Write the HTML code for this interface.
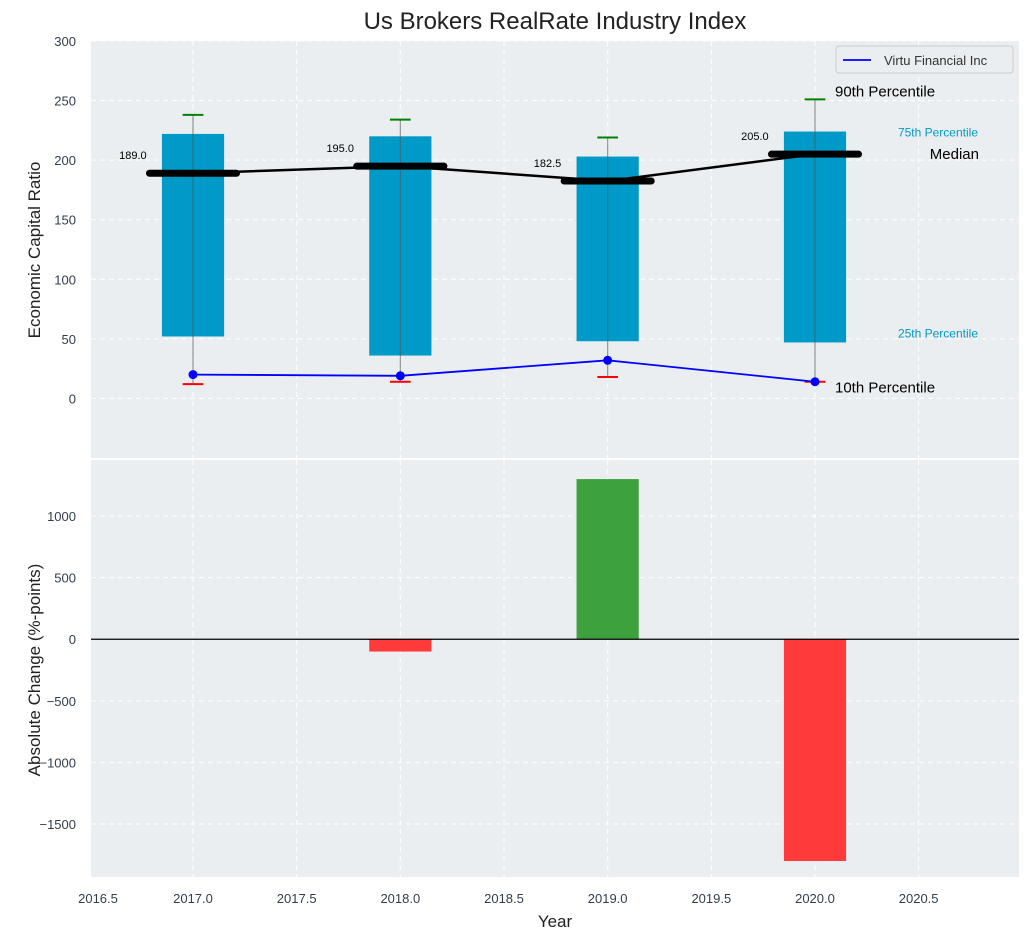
<!DOCTYPE html>
<html><head><meta charset="utf-8"><style>
body{margin:0;background:#fff;font-family:"Liberation Sans","DejaVu Sans",sans-serif}
svg text{font-family:"Liberation Sans","DejaVu Sans",sans-serif}
</style></head><body>
<svg id="c" width="1029" height="940" xmlns="http://www.w3.org/2000/svg"></svg>
<script>
const years=[2017,2018,2019,2020];
const p10=[12,14,18,14];
const p25=[52,36,48,47];
const p50=[189,195,182.5,205];
const p75=[222,220,203,224];
const p90=[238,234,219,251];
const company=[20,19,32,14];
const changes=[null,-100,1300,-1800];
const xTicks=[2016.5,2017,2017.5,2018,2018.5,2019,2019.5,2020,2020.5];
const yTopTicks=[0,50,100,150,200,250,300];
const yBotTicks=[-1500,-1000,-500,0,500,1000];

const NS='http://www.w3.org/2000/svg';
const svg=document.getElementById('c');
function el(t,a,p){const e=document.createElementNS(NS,t);for(const k in a)e.setAttribute(k,a[k]);(p||svg).appendChild(e);return e;}
const L=91,R=1019;
const X=v=>L+(v-2016.508)/(2020.984-2016.508)*(R-L);
const T0=41,T1=458;const YT=v=>T0+(300-v)/(300+50)*(T1-T0);
const B0=460,B1=877;const YB=v=>B0+(1455-v)/(1455+1930)*(B1-B0);

let r=el('rect',{x:L,y:T0,width:R-L,height:T1-T0,fill:'#eaeef0'});

r=el('rect',{x:L,y:B0,width:R-L,height:B1-B0,fill:'#eaeef0'});


xTicks.forEach(v=>{
 const x=X(v);
 if(x>=L){
 el('line',{x1:x,x2:x,y1:T0,y2:T1,stroke:'#fff','stroke-dasharray':'5,4','stroke-width':1});
 el('line',{x1:x,x2:x,y1:B0,y2:B1,stroke:'#fff','stroke-dasharray':'5,4','stroke-width':1});}
 const t=el('text',{x:Math.max(x,98),y:903,'text-anchor':'middle','font-size':13,fill:'#333d4a'});t.textContent=v.toFixed(1);
 
});
yTopTicks.forEach(v=>{
 const y=YT(v);
 el('line',{x1:L,x2:R,y1:y,y2:y,stroke:'#fff','stroke-dasharray':'5,4','stroke-width':1});
 const t=el('text',{x:76,y:y+5,'text-anchor':'end','font-size':13,fill:'#333d4a'});t.textContent=v;
 
});
yBotTicks.forEach(v=>{
 const y=YB(v);
 el('line',{x1:L,x2:R,y1:y,y2:y,stroke:'#fff','stroke-dasharray':'5,4','stroke-width':1});
 const t=el('text',{x:76,y:y+5,'text-anchor':'end','font-size':13,fill:'#333d4a'});t.textContent=v.toString().replace('-','−');
 
});

const bw=0.15;
years.forEach((yr,i)=>{
 const b=el('rect',{x:X(yr-bw),y:YT(p75[i]),width:X(yr+bw)-X(yr-bw),height:YT(p25[i])-YT(p75[i]),fill:'#009ac9'});
 
 const w=el('line',{x1:X(yr),x2:X(yr),y1:YT(p90[i]),y2:YT(p10[i]),stroke:'#555','stroke-opacity':0.6,'stroke-width':1.2});
 
 const g=el('line',{x1:X(yr-0.05),x2:X(yr+0.05),y1:YT(p90[i]),y2:YT(p90[i]),stroke:'green','stroke-width':2});
 
 const rd=el('line',{x1:X(yr-0.05),x2:X(yr+0.05),y1:YT(p10[i]),y2:YT(p10[i]),stroke:'red','stroke-width':2});
 
});
let pts=years.map((yr,i)=>X(yr)+','+YT(p50[i])).join(' ');
let pl=el('polyline',{points:pts,fill:'none',stroke:'#000','stroke-width':2.5});

years.forEach((yr,i)=>{
 const m=el('line',{x1:X(yr-0.21),x2:X(yr+0.21),y1:YT(p50[i]),y2:YT(p50[i]),stroke:'#000','stroke-width':7,'stroke-linecap':'round'});
 
 const t=el('text',{x:X(yr-0.29),y:YT(p50[i])-14,'text-anchor':'middle','font-size':11,fill:'#000'});t.textContent=p50[i].toFixed(1);
 
});
pts=years.map((yr,i)=>X(yr)+','+YT(company[i])).join(' ');
pl=el('polyline',{points:pts,fill:'none',stroke:'#0000ff','stroke-width':1.8});

years.forEach((yr,i)=>{
 const c=el('circle',{cx:X(yr),cy:YT(company[i]),r:4.5,fill:'#0000ff'});
 
});
const last=years.length-1;
function ann(txt,x,y,size,col,name,anchor){const t=el('text',{x:x,y:y,'font-size':size,fill:col,'text-anchor':anchor||'start'});t.textContent=txt;}
ann('90th Percentile',835,YT(p90[last])-3,15,'#000','p90-annotation');
ann('75th Percentile',978,YT(p75[last])+5,12,'#009ac9','p75-annotation','end');
ann('Median',979,YT(p50[last])+5,15,'#000','median-annotation','end');
ann('25th Percentile',978,YT(p25[last])-5,12,'#009ac9','p25-annotation','end');
ann('10th Percentile',835,YT(p10[last])+11,15,'#000','p10-annotation');

const lg=el('g',{});
el('rect',{x:836,y:46,width:177,height:27,rx:3,fill:'#eaeef0',stroke:'#ccc'},lg);
el('line',{x1:843,x2:871,y1:60,y2:60,stroke:'#0000ff','stroke-width':1.8},lg);
const lt=el('text',{x:884,y:65,'font-size':13,fill:'#333'},lg);lt.textContent='Virtu Financial Inc';

years.forEach((yr,i)=>{
 if(changes[i]===null)return;
 const v=changes[i];
 const y1=YB(Math.max(v,0)),y2=YB(Math.min(v,0));
 const b=el('rect',{x:X(yr-bw),y:y1,width:X(yr+bw)-X(yr-bw),height:y2-y1,fill:v>=0?'#2e9a2e':'#ff2a2a','fill-opacity':0.92});
 
});
el('line',{x1:L,x2:R,y1:YB(0),y2:YB(0),stroke:'#000','stroke-width':1.2});

ann('Us Brokers RealRate Industry Index',555,29,24,'#222','chart-title','middle');
ann('Year',555,927,17,'#222','x-axis-title','middle');
let t=el('text',{x:0,y:0,'font-size':17,fill:'#222','text-anchor':'middle',transform:'translate(40,250) rotate(-90)'});t.textContent='Economic Capital Ratio';

t=el('text',{x:0,y:0,'font-size':17,fill:'#222','text-anchor':'middle',transform:'translate(40,670) rotate(-90)'});t.textContent='Absolute Change (%-points)';

</script>
</body></html>
